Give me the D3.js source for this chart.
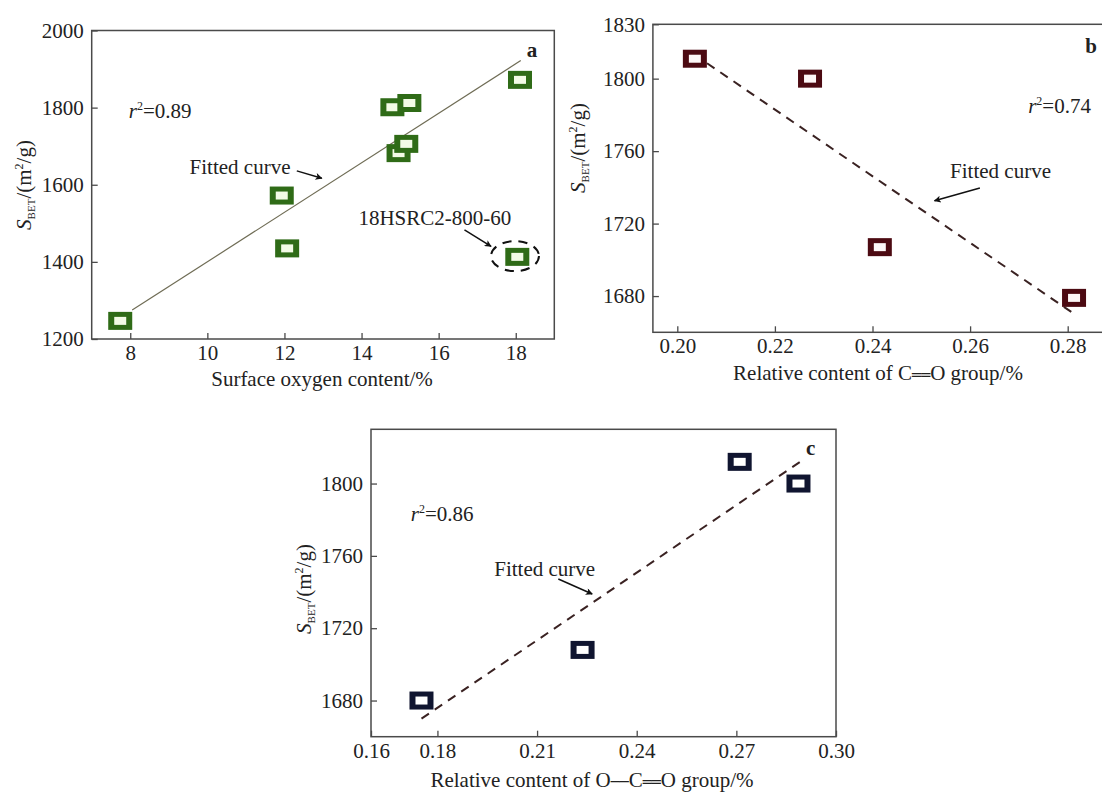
<!DOCTYPE html>
<html>
<head>
<meta charset="utf-8">
<script src="https://cdn.jsdelivr.net/npm/d3@7"></script>
<style>
    body { margin: 0; background: #fff; }
    svg { display: block; font-family: "Liberation Serif", "DejaVu Serif", serif; }
    .frame { fill: none; stroke: #4a4a4a; stroke-width: 1.5; }
    .tick line { stroke: #4a4a4a; stroke-width: 1.3; }
    .tick text { font-size: 21px; fill: #222; font-family: "Liberation Serif", serif; }
    .note { font-size: 21px; fill: #222; }
</style>
</head>
<body>
<svg id="chart" width="1102" height="792"></svg>
<script>
// panel a - surface oxygen content
const oxygenContent = [7.74, 11.93, 12.07, 14.80, 15.24, 14.96, 15.16, 18.11, 18.04];
const sbetA = [1247, 1572, 1435, 1801, 1812, 1682, 1706, 1872, 1413];
const fitAX = [8.05, 18.13];
const fitAY = [1275, 1922];
const ticksAX = [8, 10, 12, 14, 16, 18];
const ticksAY = [1200, 1400, 1600, 1800, 2000];

// panel b - C=O group
const coGroup = [0.2036, 0.2272, 0.2415, 0.2813];
const sbetB = [1811, 1800, 1707, 1679];
const fitBX = [0.2061, 0.2812];
const fitBY = [1808.5, 1670.4];
const ticksBX = [0.20, 0.22, 0.24, 0.26, 0.28];
const ticksBY = [1680, 1720, 1760, 1800, 1830];

// panel c - O-C=O group
const ocoGroup = [0.1752, 0.2237, 0.2710, 0.2887];
const sbetC = [1680, 1708, 1812, 1800];
const fitCX = [0.1752, 0.2892];
const fitCY = [1670, 1812];
const ticksCX = [0.16, 0.18, 0.21, 0.24, 0.27, 0.30];
const ticksCY = [1680, 1720, 1760, 1800];

const svg = d3.select("#chart");

svg.append("defs").append("marker")
    .attr("id", "arrow")
    .attr("viewBox", "0 0 10 10")
    .attr("refX", 9).attr("refY", 5)
    .attr("markerWidth", 9).attr("markerHeight", 7)
    .attr("orient", "auto")
    .attr("markerUnits", "userSpaceOnUse")
    .append("path")
    .attr("d", "M0,0 L10,5 L0,10 L2.5,5 Z")
    .attr("fill", "#111");

/**
 * Add "r²=..." text
 */
function rSquared(g, x, y, value) {
    const t = g.append("text").attr("class", "note").attr("x", x).attr("y", y);
    t.append("tspan").attr("font-style", "italic").text("r");
    t.append("tspan").attr("font-size", 12).attr("dy", -8).text("2");
    t.append("tspan").attr("dy", 8).text("=" + value);
}

/**
 * Rotated S_BET/(m²/g) label
 */
function yTitle(g, x, y) {
    const t = g.append("text").attr("class", "note")
        .attr("transform", `translate(${x},${y}) rotate(-90)`)
        .attr("text-anchor", "middle");
    t.append("tspan").attr("font-style", "italic").text("S");
    t.append("tspan").attr("font-size", 11).attr("dy", 4).text("BET");
    t.append("tspan").attr("dy", -4).text("/(m");
    t.append("tspan").attr("font-size", 12).attr("dy", -8).text("2");
    t.append("tspan").attr("dy", 8).text("/g)");
}

function drawPanel(p) {
    const x = d3.scaleLinear().domain(p.xDomain).range(p.xRange);
    const y = d3.scaleLinear().domain(p.yDomain).range(p.yRange);
    const g = svg.append("g");

    const left = p.xRange[0], right = p.xRange[1];
    const top = p.yRange[1], bottom = p.yRange[0];

    g.append("rect").attr("class", "frame")
        .attr("x", left).attr("y", top)
        .attr("width", right - left).attr("height", bottom - top);

    const xAxis = g.append("g")
        .attr("transform", `translate(0,${bottom})`)
        .call(d3.axisBottom(x).tickValues(p.xTicks).tickFormat(p.xFormat)
            .tickSizeInner(-6).tickSizeOuter(0).tickPadding(6));
    xAxis.select(".domain").remove();

    const yAxis = g.append("g")
        .attr("transform", `translate(${left},0)`)
        .call(d3.axisLeft(y).tickValues(p.yTicks).tickFormat(d3.format("d"))
            .tickSizeInner(-6).tickSizeOuter(0).tickPadding(8));
    yAxis.select(".domain").remove();

    // fitted line
    g.append("line")
        .attr("x1", x(p.fitX[0])).attr("y1", y(p.fitY[0]))
        .attr("x2", x(p.fitX[1])).attr("y2", y(p.fitY[1]))
        .attr("stroke", p.fitColor)
        .attr("stroke-width", p.dashed ? 2 : 1.2)
        .attr("stroke-dasharray", p.dashed ? "9,7" : null);

    // square markers
    const pts = p.xs.map((v, i) => ({ x: v, y: p.ys[i] }));
    const m = g.selectAll("g.pt").data(pts).join("g")
        .attr("class", "pt")
        .attr("transform", d => `translate(${x(d.x)},${y(d.y)})`);
    m.append("rect").attr("x", -12).attr("y", -9).attr("width", 24).attr("height", 18)
        .attr("fill", p.color);
    m.append("rect").attr("x", -6).attr("y", -4).attr("width", 12).attr("height", 8)
        .attr("fill", p.inner);

    // panel letter
    g.append("text").attr("class", "note")
        .attr("x", x(p.letter[0])).attr("y", y(p.letter[1]))
        .attr("text-anchor", "middle").attr("font-weight", "bold")
        .text(p.letter[2]);

    rSquared(g, x(p.r2[0]), y(p.r2[1]), p.r2[2]);

    g.append("text").attr("class", "note")
        .attr("x", x(p.fitText[0])).attr("y", y(p.fitText[1]))
        .text("Fitted curve");
    g.append("line")
        .attr("x1", x(p.fitArrow[0])).attr("y1", y(p.fitArrow[1]))
        .attr("x2", x(p.fitArrow[2])).attr("y2", y(p.fitArrow[3]))
        .attr("stroke", "#111").attr("stroke-width", 1.5)
        .attr("marker-end", "url(#arrow)");

    // axis titles
    const xt = g.append("text").attr("class", "note")
        .attr("x", p.xTitlePos[0]).attr("y", p.xTitlePos[1])
        .attr("text-anchor", "middle");
    p.xTitle.forEach(s => {
        const ts = xt.append("tspan").text(s.t);
        if (s.bond) ts.attr("font-family", "DejaVu Sans").attr("font-size", 15).attr("font-weight", "normal");
    });
    yTitle(g, p.yTitlePos[0], p.yTitlePos[1]);

    return { g, x, y };
}

// ─── PANEL A ───
const a = drawPanel({
    xDomain: [7, 19], xRange: [91.7, 554.3],
    yDomain: [1200, 2000], yRange: [339, 30.5],
    xTicks: ticksAX, yTicks: ticksAY, xFormat: d3.format("d"),
    xs: oxygenContent, ys: sbetA,
    fitX: fitAX, fitY: fitAY, fitColor: "#6f6c55", dashed: false,
    color: "#2f6b17", inner: "#f3fbe6",
    letter: [18.42, 1930, "a"],
    r2: [7.96, 1773, "0.89"],
    fitText: [9.54, 1629],
    fitArrow: [12.32, 1636, 12.97, 1617],
    xTitle: [{ t: "Surface oxygen content/%" }],
    xTitlePos: [322, 386],
    yTitlePos: [31, 185]
});

a.g.append("text").attr("class", "note")
    .attr("x", a.x(13.92)).attr("y", a.y(1496))
    .text("18HSRC2-800-60");
a.g.append("line")
    .attr("x1", a.x(16.67)).attr("y1", a.y(1483))
    .attr("x2", a.x(17.36)).attr("y2", a.y(1440))
    .attr("stroke", "#111").attr("stroke-width", 1.5)
    .attr("marker-end", "url(#arrow)");
a.g.append("ellipse")
    .attr("cx", a.x(17.98)).attr("cy", a.y(1415))
    .attr("rx", 24).attr("ry", 15)
    .attr("fill", "none").attr("stroke", "#111")
    .attr("stroke-width", 2).attr("stroke-dasharray", "9,7");

// ─── PANEL B ───
drawPanel({
    xDomain: [0.195, 0.29], xRange: [652.9, 1116.5],
    yDomain: [1660, 1830], yRange: [332.3, 24.3],
    xTicks: ticksBX, yTicks: ticksBY, xFormat: d3.format(".2f"),
    xs: coGroup, ys: sbetB,
    fitX: fitBX, fitY: fitBY, fitColor: "#3a2222", dashed: true,
    color: "#4c0a12", inner: "#fdf7f7",
    letter: [0.2848, 1814, "b"],
    r2: [0.2719, 1781, "0.74"],
    fitText: [0.2559, 1745],
    fitArrow: [0.2620, 1739.6, 0.2527, 1732.6],
    xTitle: [{ t: "Relative content of C" }, { t: "══", bond: true }, { t: "O group/%" }],
    xTitlePos: [878, 380],
    yTitlePos: [585, 148]
});

// ─── PANEL C ───
drawPanel({
    xDomain: [0.16, 0.30], xRange: [371, 836],
    yDomain: [1660, 1830], yRange: [736.7, 429.3],
    xTicks: ticksCX, yTicks: ticksCY, xFormat: d3.format(".2f"),
    xs: ocoGroup, ys: sbetC,
    fitX: fitCX, fitY: fitCY, fitColor: "#3a2222", dashed: true,
    color: "#101530", inner: "#ffffff",
    letter: [0.2924, 1816, "c"],
    r2: [0.172, 1779.5, "0.86"],
    fitText: [0.1971, 1749],
    fitArrow: [0.2164, 1747.2, 0.2266, 1738.9],
    xTitle: [{ t: "Relative content of O" }, { t: "──", bond: true }, { t: "C" }, { t: "══", bond: true }, { t: "O group/%" }],
    xTitlePos: [592, 787],
    yTitlePos: [311, 589]
});
</script>
</body>
</html>
